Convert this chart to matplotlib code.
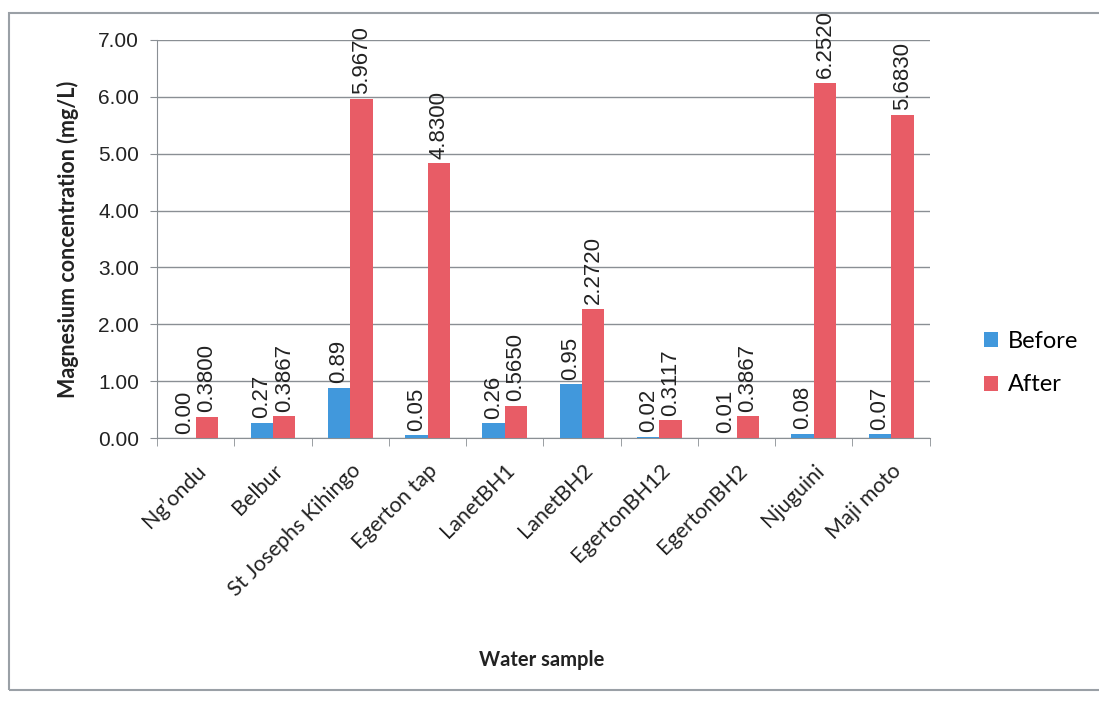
import matplotlib.pyplot as plt
import matplotlib.patches as mpatches
import numpy as np

# data
samples = ["Ng\u2019ondu", "Belbur", "St Josephs Kihingo", "Egerton tap", "LanetBH1",
           "LanetBH2", "EgertonBH12", "EgertonBH2", "Njuguini", "Maji moto"]
before = [0.00, 0.27, 0.89, 0.05, 0.26, 0.95, 0.02, 0.01, 0.08, 0.07]
after = [0.3800, 0.3867, 5.9670, 4.8300, 0.5650, 2.2720, 0.3117, 0.3867, 6.2520, 5.6830]
before_lbl = ["0.00", "0.27", "0.89", "0.05", "0.26", "0.95", "0.02", "0.01", "0.08", "0.07"]
after_lbl = ["0.3800", "0.3867", "5.9670", "4.8300", "0.5650", "2.2720", "0.3117", "0.3867", "6.2520", "5.6830"]
yticks = [0, 1, 2, 3, 4, 5, 6, 7]

blue = '#4198dc'
red = '#e85c66'
txt = '#222222'
grey = '#8a8f94'

fig = plt.figure(figsize=(10.99, 7.01), dpi=100)
ax = fig.add_axes([0.143, 0.375, 0.703, 0.568])

x = np.arange(len(samples))
w = 0.29
b1 = ax.bar(x - w/2, before, w, color=blue, label='Before', zorder=3)
b2 = ax.bar(x + w/2, after, w, color=red, label='After', zorder=3)

for i in range(len(samples)):
    ax.text(x[i] - w/2, before[i] + 0.08, before_lbl[i], rotation=90, ha='center', va='bottom',
            fontsize=16, family='Liberation Sans', color=txt)
    ax.text(x[i] + w/2, after[i] + 0.08, after_lbl[i], rotation=90, ha='center', va='bottom',
            fontsize=16, family='Liberation Sans', color=txt, clip_on=False)

ax.set_xlim(-0.5, len(samples) - 0.5)
ax.set_ylim(0, 7)
ax.set_yticks(yticks)
ax.set_yticklabels(['%.2f' % v for v in yticks], fontsize=15, family='Liberation Sans', color=txt)
ax.yaxis.grid(True, color=grey, linewidth=1, zorder=0)

ax.set_xticks(x)
ax.set_xticklabels(samples, rotation=45, ha='right', rotation_mode='anchor',
                   fontsize=15.5, family='Lato', color=txt)
ax.tick_params(axis='x', length=0, pad=16)
ax.set_xticks(np.arange(-0.5, len(samples)), minor=True)
ax.tick_params(axis='x', which='minor', length=6, color=grey)
ax.tick_params(axis='y', length=5, color=grey, pad=8)

for s in ['top', 'right']:
    ax.spines[s].set_visible(False)
ax.spines['left'].set_color(grey)
ax.spines['bottom'].set_color(grey)

ax.set_ylabel('Magnesium concentration (mg/L)', fontsize=15.5, fontweight='bold', family='Lato',
              color=txt, labelpad=14)
fig.text(0.493, 0.058, 'Water sample', ha='center', va='center', fontsize=14.5,
         fontweight='bold', family='Lato', color=txt)

fig.legend(handles=[b1, b2], loc='center left', bbox_to_anchor=(0.876, 0.482), frameon=False,
           prop={'family': 'Lato', 'size': 17}, handlelength=0.6, handleheight=0.6,
           labelspacing=0.95, handletextpad=0.4)

# outer chart border
fig.patches.append(mpatches.Rectangle((0.008, 0.016), 1.0, 0.966, transform=fig.transFigure,
                                      fill=False, edgecolor='#9aa0a6', linewidth=1.5))

plt.savefig('out.png', dpi=100)
plt.close()
